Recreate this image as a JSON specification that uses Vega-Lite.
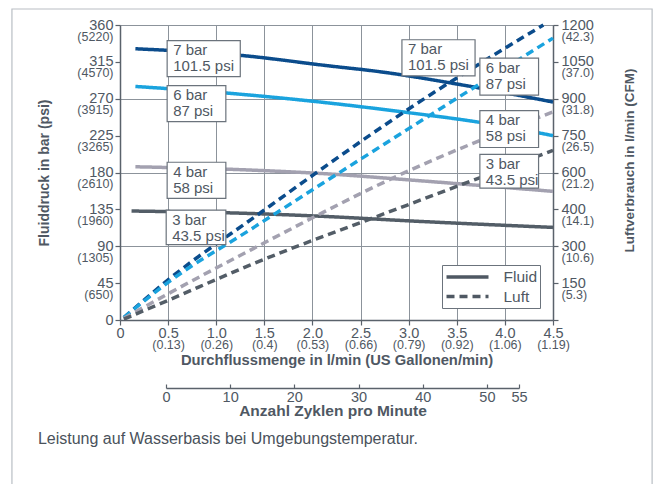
{
  "$schema": "https://vega.github.io/schema/vega-lite/v6.json",
  "width": 433,
  "height": 295,
  "autosize": {"type": "none"},
  "padding": {"left": 120, "top": 25, "right": 103, "bottom": 164},
  "background": "white",
  "config": {
    "font": "Liberation Sans",
    "view": {"stroke": null},
    "axis": {
      "labelFont": "Liberation Sans",
      "titleFont": "Liberation Sans",
      "labelColor": "#4f5863",
      "titleColor": "#4f5863",
      "domainColor": "#5a626b",
      "tickColor": "#5a626b",
      "gridColor": "#8c939b",
      "gridWidth": 1,
      "domainWidth": 1.5,
      "tickWidth": 1.2,
      "labelFlush": false,
      "labelOverlap": false,
      "labelBound": false
    },
    "legend": {
      "orient": "none",
      "legendX": 322,
      "legendY": 240,
      "direction": "vertical",
      "strokeColor": "#6b737c",
      "fillColor": "white",
      "padding": 2.5,
      "symbolType": "M-1,0H4.6",
      "symbolSize": 225,
      "symbolStrokeWidth": 3.5,
      "symbolStrokeColor": "#4f5863",
      "labelOffset": 40,
      "labelFontSize": 15.5,
      "labelColor": "#4f5863",
      "labelFont": "Liberation Sans",
      "rowPadding": 1.5
    }
  },
  "datasets": {
    "lines": [
      {"bar": "7", "type": "Fluid", "x": 0.16, "y": 331},
      {"bar": "7", "type": "Fluid", "x": 1.25, "y": 323},
      {"bar": "7", "type": "Fluid", "x": 2.18, "y": 310},
      {"bar": "7", "type": "Fluid", "x": 2.7, "y": 303},
      {"bar": "7", "type": "Fluid", "x": 3.5, "y": 288},
      {"bar": "7", "type": "Fluid", "x": 4.5, "y": 266},
      {"bar": "6", "type": "Fluid", "x": 0.16, "y": 285},
      {"bar": "6", "type": "Fluid", "x": 1.0, "y": 278},
      {"bar": "6", "type": "Fluid", "x": 2.0, "y": 267},
      {"bar": "6", "type": "Fluid", "x": 3.0, "y": 253},
      {"bar": "6", "type": "Fluid", "x": 3.75, "y": 241},
      {"bar": "6", "type": "Fluid", "x": 4.5, "y": 225},
      {"bar": "4", "type": "Fluid", "x": 0.16, "y": 187},
      {"bar": "4", "type": "Fluid", "x": 1.35, "y": 183},
      {"bar": "4", "type": "Fluid", "x": 2.2, "y": 178},
      {"bar": "4", "type": "Fluid", "x": 3.0, "y": 171},
      {"bar": "4", "type": "Fluid", "x": 4.5, "y": 157},
      {"bar": "3", "type": "Fluid", "x": 0.12, "y": 133},
      {"bar": "3", "type": "Fluid", "x": 1.35, "y": 130},
      {"bar": "3", "type": "Fluid", "x": 2.2, "y": 126},
      {"bar": "3", "type": "Fluid", "x": 3.0, "y": 121},
      {"bar": "3", "type": "Fluid", "x": 4.5, "y": 113},
      {"bar": "7", "type": "Luft", "x": 0.04, "y": 3},
      {"bar": "7", "type": "Luft", "x": 0.5, "y": 49},
      {"bar": "7", "type": "Luft", "x": 1.45, "y": 130},
      {"bar": "7", "type": "Luft", "x": 2.2, "y": 193},
      {"bar": "7", "type": "Luft", "x": 2.98, "y": 256},
      {"bar": "7", "type": "Luft", "x": 4.4, "y": 360},
      {"bar": "6", "type": "Luft", "x": 0.04, "y": 3},
      {"bar": "6", "type": "Luft", "x": 0.5, "y": 46},
      {"bar": "6", "type": "Luft", "x": 1.35, "y": 110},
      {"bar": "6", "type": "Luft", "x": 2.98, "y": 232},
      {"bar": "6", "type": "Luft", "x": 4.5, "y": 344},
      {"bar": "4", "type": "Luft", "x": 0.04, "y": 2},
      {"bar": "4", "type": "Luft", "x": 0.5, "y": 32},
      {"bar": "4", "type": "Luft", "x": 1.35, "y": 85},
      {"bar": "4", "type": "Luft", "x": 2.98, "y": 181},
      {"bar": "4", "type": "Luft", "x": 4.5, "y": 254},
      {"bar": "3", "type": "Luft", "x": 0.04, "y": 1},
      {"bar": "3", "type": "Luft", "x": 0.5, "y": 24},
      {"bar": "3", "type": "Luft", "x": 1.35, "y": 67},
      {"bar": "3", "type": "Luft", "x": 2.98, "y": 140},
      {"bar": "3", "type": "Luft", "x": 4.5, "y": 207}
    ],
    "boxes": [
      {"label": "7 bar\n101.5 psi", "x0": 0.49, "x1": 1.25, "y0": 341, "y1": 297},
      {"label": "6 bar\n87 psi", "x0": 0.49, "x1": 1.1, "y0": 286, "y1": 242},
      {"label": "4 bar\n58 psi", "x0": 0.49, "x1": 1.1, "y0": 192.5, "y1": 148.5},
      {"label": "3 bar\n43.5 psi", "x0": 0.48, "x1": 1.1, "y0": 134, "y1": 92},
      {"label": "7 bar\n101.5 psi", "x0": 2.93, "x1": 3.69, "y0": 342, "y1": 298},
      {"label": "6 bar\n87 psi", "x0": 3.74, "x1": 4.35, "y0": 319.5, "y1": 274.5},
      {"label": "4 bar\n58 psi", "x0": 3.74, "x1": 4.35, "y0": 255.5, "y1": 210.5},
      {"label": "3 bar\n43.5 psi", "x0": 3.74, "x1": 4.35, "y0": 202, "y1": 161}
    ],
    "caption": [{"text": "Leistung auf Wasserbasis bei Umgebungstemperatur."}],
    "ax": [{"v": 0}]
  },
  "resolve": {
    "scale": {"x": "independent", "y": "independent"},
    "axis": {"x": "independent", "y": "independent"}
  },
  "layer": [
    {
      "layer": [
        {
          "data": {"name": "ax"},
          "mark": {"type": "rect", "fill": null, "stroke": "#b9bec4", "strokeWidth": 1.2, "clip": false},
          "encoding": {
            "x": {"datum": -1.123, "type": "quantitative", "title": null},
            "x2": {"datum": 5.53},
            "y": {"datum": 379.5, "type": "quantitative", "title": null},
            "y2": {"datum": -207}
          }
        },
        {
          "data": {"name": "caption"},
          "mark": {"type": "text", "align": "left", "baseline": "top", "fontSize": 16, "color": "#4a525b", "font": "Liberation Sans", "clip": false},
          "encoding": {
            "x": {"datum": -0.853, "type": "quantitative", "title": null},
            "y": {"datum": -135.5, "type": "quantitative", "title": null},
            "text": {"field": "text"}
          }
        },
        {
          "data": {"name": "lines"},
          "mark": {"type": "line", "strokeWidth": 3.5, "interpolate": "monotone"},
          "encoding": {
            "x": {
              "field": "x", "type": "quantitative", "title": null,
              "scale": {"domain": [0, 4.5], "nice": false, "zero": false},
              "axis": {
                "orient": "bottom",
                "values": [0, 0.5, 1, 1.5, 2, 2.5, 3, 3.5, 4, 4.5],
                "labelExpr": "datum.value == 0 ? '0' : format(datum.value, '.1f')",
                "labelOverlap": false,
                "grid": true, "tickSize": 5, "labelPadding": 1, "labelFontSize": 14.5, "title": null
              }
            },
            "y": {
              "field": "y", "type": "quantitative", "title": null,
              "scale": {"domain": [0, 360], "nice": false, "zero": false},
              "axis": {
                "orient": "left",
                "values": [0, 45, 90, 135, 180, 225, 270, 315, 360],
                "grid": true, "ticks": false, "labels": false, "title": null
              }
            },
            "color": {
              "field": "bar", "type": "nominal",
              "scale": {"domain": ["7", "6", "4", "3"], "range": ["#0b4c8c", "#1aa3de", "#a3a1b0", "#535d67"]},
              "legend": null
            },
            "strokeDash": {
              "field": "type", "type": "nominal",
              "scale": {"domain": ["Fluid", "Luft"], "range": [[1, 0], [8, 5]]},
              "legend": {"title": null}
            }
          }
        },
        {
          "data": {"name": "boxes"},
          "mark": {"type": "rect", "fill": "white", "stroke": "#6b737c", "strokeWidth": 1.2},
          "encoding": {
            "x": {"field": "x0", "type": "quantitative", "title": null},
            "x2": {"field": "x1"},
            "y": {"field": "y0", "type": "quantitative", "title": null},
            "y2": {"field": "y1"}
          }
        },
        {
          "data": {"name": "boxes"},
          "mark": {"type": "text", "align": "left", "baseline": "top", "dx": 6, "dy": 2.5, "fontSize": 15, "lineHeight": 16, "lineBreak": "\n", "color": "#4f5863", "font": "Liberation Sans"},
          "encoding": {
            "x": {"field": "x0", "type": "quantitative", "title": null},
            "y": {"field": "y0", "type": "quantitative", "title": null},
            "text": {"field": "label"}
          }
        }
      ]
    },
    {
      "data": {"name": "ax"},
      "mark": {"type": "point", "opacity": 0},
      "encoding": {
        "y": {
          "field": "v", "type": "quantitative",
          "scale": {"domain": [0, 360], "nice": false, "zero": false},
          "axis": {
            "orient": "left",
            "values": [0, 45, 90, 135, 180, 225, 270, 315, 360],
            "labelExpr": "['0', '45', '90', '135', '180', '225', '270', '315', '360'][round(datum.value / 45)]",
            "labelOverlap": false,
            "labelFontSize": 14.5, "labelBaseline": "middle",
            "tickSize": 5, "labelPadding": 2, "domain": false, "grid": false, "title": null
          }
        }
      }
    },
    {
      "data": {"name": "ax"},
      "mark": {"type": "point", "opacity": 0},
      "encoding": {
        "y": {
          "field": "v", "type": "quantitative",
          "scale": {"domain": [0, 360], "nice": false, "zero": false},
          "axis": {
            "orient": "left",
            "values": [45, 90, 135, 180, 225, 270, 315, 360],
            "labelExpr": "['', '(650)', '(1305)', '(1960)', '(2610)', '(3265)', '(3915)', '(4570)', '(5220)'][round(datum.value / 45)]",
            "labelOverlap": false,
            "labelFontSize": 12.5, "labelOffset": 11, "labelBaseline": "middle",
            "tickSize": 5, "tickOpacity": 0, "labelPadding": 2, "domain": false, "grid": false,
            "title": "Fluiddruck in bar (psi)", "titleFontSize": 14, "titleFontWeight": "bold", "titlePadding": 25
          }
        }
      }
    },
    {
      "data": {"name": "ax"},
      "mark": {"type": "point", "opacity": 0},
      "encoding": {
        "y": {
          "field": "v", "type": "quantitative",
          "scale": {"domain": [0, 360], "nice": false, "zero": false},
          "axis": {
            "orient": "right",
            "values": [0, 45, 90, 135, 180, 225, 270, 315, 360],
            "labelExpr": "['', '150', '300', '400', '600', '750', '900', '1050', '1200'][round(datum.value / 45)]",
            "labelOverlap": false,
            "labelFontSize": 14.5, "labelBaseline": "middle",
            "tickSize": 5, "labelPadding": 3, "domain": true, "grid": false, "title": null
          }
        }
      }
    },
    {
      "data": {"name": "ax"},
      "mark": {"type": "point", "opacity": 0},
      "encoding": {
        "y": {
          "field": "v", "type": "quantitative",
          "scale": {"domain": [0, 360], "nice": false, "zero": false},
          "axis": {
            "orient": "right",
            "values": [45, 90, 135, 180, 225, 270, 315, 360],
            "labelExpr": "['', '(5.3)', '(10.6)', '(14.1)', '(21.2)', '(26.5)', '(31.8)', '(37.0)', '(42.3)'][round(datum.value / 45)]",
            "labelOverlap": false,
            "labelFontSize": 12.5, "labelOffset": 11, "labelBaseline": "middle",
            "tickSize": 5, "tickOpacity": 0, "labelPadding": 3, "domain": false, "grid": false,
            "title": "Luftverbrauch in l/min (CFM)", "titleFontSize": 13.5, "titleFontWeight": "bold",
            "titleAngle": 270, "titleBaseline": "top", "titlePadding": 29, "titleY": 135
          }
        }
      }
    },
    {
      "data": {"name": "ax"},
      "mark": {"type": "point", "opacity": 0},
      "encoding": {
        "x": {
          "field": "v", "type": "quantitative",
          "scale": {"domain": [0, 4.5], "nice": false, "zero": false},
          "axis": {
            "orient": "bottom",
            "values": [0.5, 1, 1.5, 2, 2.5, 3, 3.5, 4, 4.5],
            "labelExpr": "['', '(0.13)', '(0.26)', '(0.4)', '(0.53)', '(0.66)', '(0.79)', '(0.92)', '(1.06)', '(1.19)'][round(datum.value * 2)]",
            "labelOverlap": false,
            "labelFontSize": 12.5, "tickSize": 5, "tickOpacity": 0, "labelPadding": 13,
            "domain": false, "grid": false,
            "title": "Durchflussmenge in l/min (US Gallonen/min)", "titleFontSize": 14.75, "titleFontWeight": "bold", "titlePadding": 2
          }
        }
      }
    },
    {
      "data": {"name": "ax"},
      "mark": {"type": "point", "opacity": 0},
      "encoding": {
        "x": {
          "field": "v", "type": "quantitative",
          "scale": {"domain": [0, 55], "range": [46, 399], "nice": false, "zero": false},
          "axis": {
            "orient": "bottom", "offset": 68,
            "values": [0, 10, 20, 30, 40, 50, 55],
            "labelOverlap": false,
            "labelFontSize": 14.5, "tickSize": -4, "labelPadding": 6,
            "domain": true, "grid": false,
            "title": "Anzahl Zyklen pro Minute", "titleFontSize": 15.5, "titleFontWeight": "bold", "titlePadding": 0, "titleX": 212.5
          }
        }
      }
    }
  ]
}
